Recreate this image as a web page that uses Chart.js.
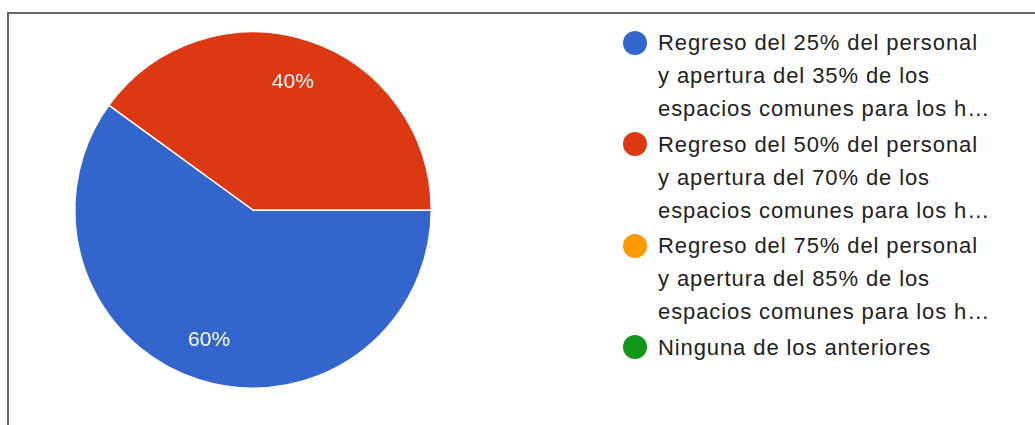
<!DOCTYPE html>
<html>
<head>
<meta charset="utf-8">
<script src="https://cdn.jsdelivr.net/npm/chart.js@4.4.1/dist/chart.umd.min.js"></script>
<style>
    html, body {
        margin: 0;
        padding: 0;
        width: 1035px;
        height: 425px;
        overflow: hidden;
        background: #fff;
        font-family: Arial, "Liberation Sans", sans-serif;
    }
    .frame {
        position: absolute;
        left: 7px;
        top: 12px;
        width: 1100px;
        height: 500px;
        border: 2px solid #666;
    }
    .pie-wrap {
        position: absolute;
        left: 64px;
        top: 21px;
        width: 378px;
        height: 378px;
    }
    #legend {
        position: absolute;
        left: 623px;
        top: 26px;
        margin: 0;
        padding: 0;
        list-style: none;
    }
    #legend li {
        display: flex;
        align-items: flex-start;
        margin-bottom: 2.5px;
        cursor: pointer;
    }
    #legend .dot {
        width: 24px;
        height: 24px;
        border-radius: 50%;
        margin-top: 4.5px;
        margin-right: 11px;
        flex: none;
    }
    #legend .txt div {
        font-size: 22px;
        letter-spacing: 0.9px;
        line-height: 33px;
        color: #222;
        white-space: nowrap;
    }
</style>
</head>
<body>
<div class="frame"></div>
<div class="pie-wrap"><canvas id="pieChart"></canvas></div>
<ul id="legend"></ul>

<script>
// Chart data
const categories = [
    ['Regreso del 25% del personal', 'y apertura del 35% de los', 'espacios comunes para los h…'],
    ['Regreso del 50% del personal', 'y apertura del 70% de los', 'espacios comunes para los h…'],
    ['Regreso del 75% del personal', 'y apertura del 85% de los', 'espacios comunes para los h…'],
    ['Ninguna de los anteriores']
];
const values = [60, 40, 0, 0];
const colors = ['#3366cc', '#dc3912', '#ff9900', '#109618'];

// Percent labels inside the slices
const sliceLabels = {
    id: 'sliceLabels',
    afterDatasetsDraw(chart) {
        const ctx = chart.ctx;
        const meta = chart.getDatasetMeta(0);
        const data = chart.data.datasets[0].data;
        const total = data.reduce((a, b) => a + b, 0);
        ctx.save();
        ctx.fillStyle = '#ffffff';
        ctx.font = '21px Arial, "Liberation Sans", sans-serif';
        ctx.textAlign = 'center';
        ctx.textBaseline = 'middle';
        meta.data.forEach((arc, i) => {
            if (!data[i]) return;
            const p = arc.getProps(['x', 'y', 'startAngle', 'endAngle', 'outerRadius'], true);
            const mid = (p.startAngle + p.endAngle) / 2;
            const r = p.outerRadius * 0.76;
            const pct = Math.round(data[i] / total * 100) + '%';
            ctx.fillText(pct, p.x + Math.cos(mid) * r - 2, p.y + Math.sin(mid) * r + 1);
        });
        ctx.restore();
    }
};

// Legend built as html so the labels can wrap over several lines
const htmlLegend = {
    id: 'htmlLegend',
    afterUpdate(chart) {
        const ul = document.getElementById('legend');
        ul.innerHTML = '';
        const items = chart.options.plugins.legend.labels.generateLabels(chart);
        items.forEach(item => {
            const li = document.createElement('li');
            li.onclick = () => {
                chart.toggleDataVisibility(item.index);
                chart.update();
            };
            const dot = document.createElement('span');
            dot.className = 'dot';
            dot.style.background = item.fillStyle;
            const txt = document.createElement('div');
            txt.className = 'txt';
            const lines = Array.isArray(item.text) ? item.text : [item.text];
            lines.forEach(line => {
                const d = document.createElement('div');
                d.textContent = line;
                if (item.hidden) d.style.textDecoration = 'line-through';
                txt.appendChild(d);
            });
            li.appendChild(dot);
            li.appendChild(txt);
            ul.appendChild(li);
        });
    }
};

function initChart() {
    const ctx = document.getElementById('pieChart').getContext('2d');
    new Chart(ctx, {
        type: 'pie',
        data: {
            labels: categories,
            datasets: [{
                data: values,
                backgroundColor: colors,
                borderColor: '#ffffff',
                borderWidth: 1.5
            }]
        },
        options: {
            responsive: true,
            maintainAspectRatio: false,
            animation: false,
            rotation: 90,
            layout: { padding: 10 },
            plugins: {
                legend: { display: false },
                tooltip: { enabled: true }
            }
        },
        plugins: [sliceLabels, htmlLegend]
    });
}

window.addEventListener('load', initChart);
</script>
</body>
</html>
